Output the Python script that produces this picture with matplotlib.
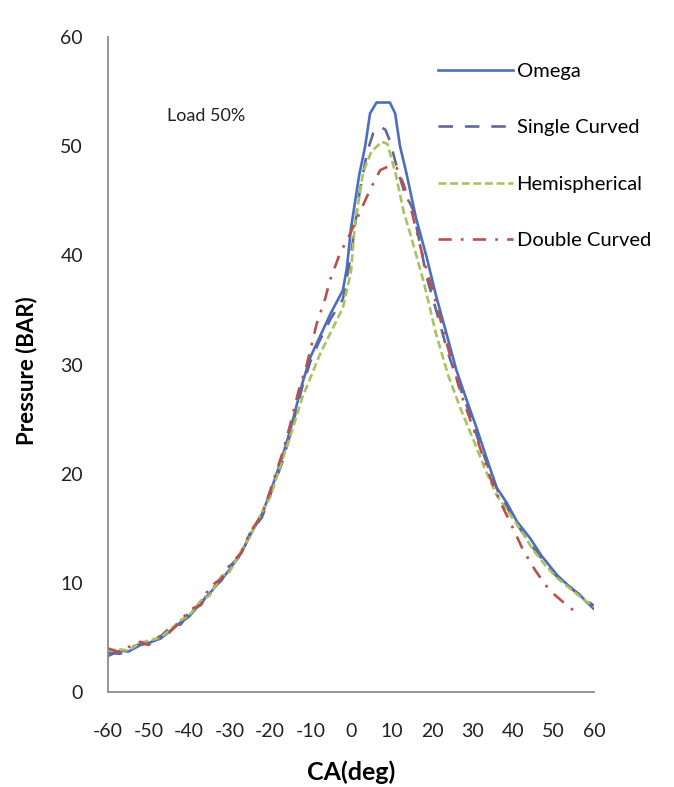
import matplotlib
matplotlib.use("Agg")
import matplotlib.pyplot as plt

plt.rcParams['font.family'] = ['Lato', 'DejaVu Sans']
plt.rcParams['axes.unicode_minus'] = False

# ---- data ----
omega_x = [-60, -57, -55, -52, -50, -47, -45, -42, -40, -37, -35, -32, -30, -27, -25, -22, -20, -17, -15, -12,
           -10, -8, -5, -2, -1, 0, 2, 3.5, 4.7, 6.3, 9.6, 10.9, 12.1, 13.7, 16, 18.7, 21, 23.6, 26, 28.6,
           31, 33.5, 36, 38.5, 41, 44.2, 47, 50.9, 53.5, 56.5, 58, 60]
omega_y = [3.3, 3.8, 3.7, 4.3, 4.5, 4.9, 5.5, 6.4, 6.9, 8.2, 9.0, 10.3, 11.2, 12.8, 14.3, 16.3, 18.2, 21.5, 24.0, 28.3,
           30.7, 32.3, 34.7, 36.8, 38.9, 42.5, 47.3, 50.0, 53.0, 54.0, 54.0, 53.0, 50.0, 47.5, 43.5, 39.8, 36.3, 32.8, 29.5, 26.7,
           24.2, 21.4, 18.7, 17.3, 15.6, 14.1, 12.5, 10.7, 9.8, 8.9, 8.3, 7.6]

single_x = [-60, -57, -55, -52, -50, -47, -45, -42, -40, -37, -35, -32, -30, -27, -25, -22, -20, -17, -15, -12,
            -10, -8, -5, -2, 0, 2, 4, 5.5, 7.2, 8.5, 9.6, 11.3, 13, 15.3, 18.7, 21, 24, 26.5, 29, 31.5,
            34, 36.5, 39, 42, 45, 48, 51, 54, 57, 60]
single_y = [3.6, 3.5, 4.0, 4.4, 4.4, 5.1, 5.8, 6.2, 7.3, 8.0, 9.3, 10.2, 11.5, 12.6, 14.5, 16.0, 18.0, 21.0, 23.6, 28.0,
            30.3, 32.0, 34.2, 36.0, 40.0, 45.5, 49.5, 51.2, 51.8, 51.5, 50.5, 48.1, 46.0, 44.2, 38.0, 35.0, 31.0, 28.3, 25.8, 23.0,
            20.5, 18.2, 16.6, 14.8, 13.2, 11.8, 10.5, 9.6, 8.7, 7.9]

hemi_x = [-60, -57, -55, -52, -50, -47, -45, -42, -40, -37, -35, -32, -30, -27, -25, -22, -20, -17, -15, -12,
          -10, -7.6, -4.4, -2, 0, 1, 3, 5, 7.6, 9, 11, 13, 15, 18, 21, 24, 27, 30, 33, 36,
          39, 42, 45, 48, 51, 54, 57, 60]
hemi_y = [3.8, 3.9, 3.8, 4.5, 4.7, 5.0, 5.6, 6.6, 7.0, 8.4, 8.8, 10.6, 11.0, 13.0, 14.2, 16.5, 17.8, 21.2, 23.4, 27.0,
          28.8, 31.0, 33.4, 35.2, 38.5, 43.0, 47.6, 49.5, 50.4, 50.2, 47.5, 44.0, 41.5, 37.5, 32.8, 29.0, 26.0, 23.3, 20.5, 18.0,
          16.4, 14.8, 13.0, 11.6, 10.4, 9.5, 8.6, 7.8]

double_x = [-60, -57, -55, -52, -50, -47, -45, -42, -40, -37, -35, -32, -30, -27, -25, -22, -20, -17, -15, -13,
            -10.9, -8.5, -6.4, -5.2, -2.7, -0.7, 2, 4.7, 7.2, 9.5, 11.3, 13, 15, 18, 20, 23.6, 27, 31, 34.7, 37,
            40, 42.5, 45.4, 48, 50, 52.8, 54.5, 56]
double_y = [4.0, 3.6, 4.1, 4.6, 4.3, 5.2, 5.4, 6.5, 7.5, 8.0, 9.6, 10.4, 11.6, 12.8, 14.6, 16.2, 18.4, 21.8, 24.5, 27.5,
            30.0, 33.7, 36.0, 37.7, 40.2, 41.6, 43.8, 46.0, 47.8, 48.2, 48.0, 46.5, 44.0, 39.5, 37.0, 32.0, 27.5, 23.3, 19.3, 17.3,
            15.0, 13.0, 11.2, 9.8, 9.0, 8.1, 7.6, 7.2]

series_names = ["Omega", "Single Curved", "Hemispherical", "Double Curved"]
x_ticks = [-60, -50, -40, -30, -20, -10, 0, 10, 20, 30, 40, 50, 60]
y_ticks = [0, 10, 20, 30, 40, 50, 60]
annotation = "Load 50%"

# ---- figure ----
fig = plt.figure(figsize=(6.74, 7.87), dpi=100)
ax = fig.add_axes([108 / 674, 1 - 692 / 787, (594 - 108) / 674, (692 - 37) / 787])

ax.plot(omega_x, omega_y, color="#4A6FC0", lw=1.9, label=series_names[0])
ax.plot(single_x, single_y, color="#62679A", lw=1.9, dashes=(5.5, 4.5), label=series_names[1])
ax.plot(hemi_x, hemi_y, color="#A9C25E", lw=1.9, dashes=(3.0, 1.4), label=series_names[2])
ax.plot(double_x, double_y, color="#B9504C", lw=1.9, dashes=(5.0, 3.5, 1.0, 3.5), label=series_names[3])

ax.set_xlim(-60, 60)
ax.set_ylim(0, 60)
ax.set_xticks(x_ticks)
ax.set_yticks(y_ticks)
ax.tick_params(length=0, labelsize=14, colors="#222222")
ax.tick_params(axis='x', pad=22)
ax.tick_params(axis='y', pad=18)

for s in ["top", "right"]:
    ax.spines[s].set_visible(False)
for s in ["left", "bottom"]:
    ax.spines[s].set_color("#8C8C8C")
    ax.spines[s].set_linewidth(1.3)

ax.set_xlabel("CA(deg)", fontsize=18, fontweight="bold")
ax.xaxis.set_label_coords(0.5, -0.104)
ax.set_ylabel("Pressure (BAR)", fontsize=16, fontweight="bold")
ax.yaxis.set_label_coords(-0.146, 0.49)

ax.text(-45.5, 52.8, annotation, fontsize=13, va="center", ha="left", color="#222222")

leg = ax.legend(loc="upper left", bbox_to_anchor=(438 / 674, 1 - 63 / 787),
                bbox_transform=fig.transFigure, frameon=False, fontsize=14.5,
                handlelength=3.7, handletextpad=0.2, labelspacing=1.95,
                borderpad=0, borderaxespad=0)

fig.savefig("out.png", dpi=100)
